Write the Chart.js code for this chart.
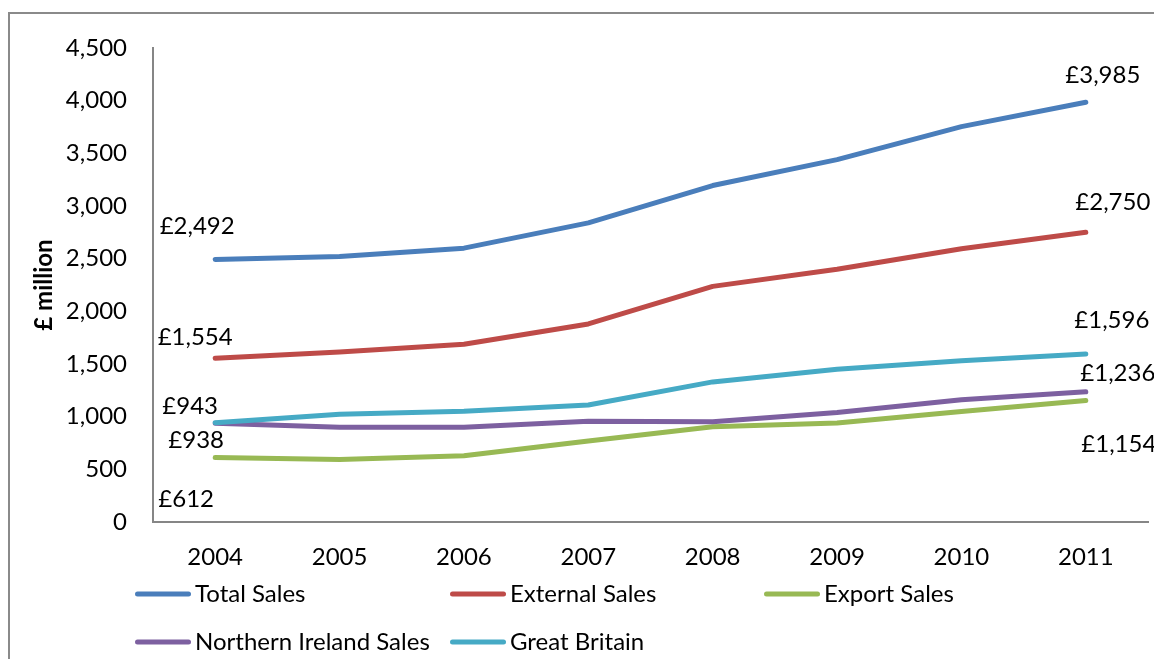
<!DOCTYPE html>
<html>
<head>
<meta charset="utf-8">
<title>Sales, £ million, 2004–2011</title>
<script src="https://cdn.jsdelivr.net/npm/chart.js@4.4.1/dist/chart.umd.min.js"></script>
<style>
  html, body { margin: 0; padding: 0; background: #ffffff; }
  #wrap { width: 1154px; height: 659px; position: relative; }
</style>
</head>
<body>
<div id="wrap"><canvas id="salesChart" width="1154" height="659"></canvas></div>
<script>
// ---- data -------------------------------------------------------------
const years = ['2004', '2005', '2006', '2007', '2008', '2009', '2010', '2011'];

const totalSales            = [2492, 2521, 2600, 2840, 3194, 3440, 3754, 3985];
const externalSales         = [1554, 1615, 1687, 1880, 2237, 2400, 2594, 2750];
const exportSales           = [ 612,  594,  628,  768,  905,  940, 1050, 1154];
const northernIrelandSales  = [ 938,  900,  900,  957,  951, 1040, 1160, 1236];
const greatBritainSales     = [ 943, 1022, 1052, 1110, 1330, 1450, 1530, 1596];

const seriesNames = ['Total Sales', 'External Sales', 'Export Sales', 'Northern Ireland Sales', 'Great Britain'];
const seriesValues = [totalSales, externalSales, exportSales, northernIrelandSales, greatBritainSales];

const yAxisTitle = '£ million';
const yMin = 0, yMax = 4500, yStep = 500;

// ---- styling ----------------------------------------------------------
const FONT = 'Lato, "Open Sans", "DejaVu Sans", sans-serif';
const FONT_SIZE = 24;
const seriesColors = ['#4A7EBB', '#BE4B48', '#98B954', '#7D60A0', '#46AAC5'];
const axisGrey = '#868686';

// offsets (px) of the first / last value labels from their points: [dx, dy]
const labelOffsets = [
  { first: [-18, -33], last: [17, -27] },
  { first: [-20, -21], last: [27, -30] },
  { first: [-29,  42], last: [33,  44] },
  { first: [-19,  17], last: [32, -19] },
  { first: [-25, -16], last: [26, -34] }
];

// legend grid: column x (start of swatch) and row y (centre line)
const legendCols = [135, 450, 764];
const legendRows = [594, 642];
const legendSwatch = 56;

const formatPounds = v => '£' + v.toLocaleString('en-GB');

// ---- plugins ----------------------------------------------------------
const framePlugin = {
  id: 'frame',
  beforeDraw(chart) {
    const ctx = chart.ctx;
    ctx.save();
    ctx.fillStyle = '#ffffff';
    ctx.fillRect(0, 0, chart.width, chart.height);
    ctx.strokeStyle = '#8a8a8a';
    ctx.lineWidth = 2;
    ctx.strokeRect(9, 13, chart.width + 40, chart.height + 40);
    ctx.restore();
  }
};

const endLabelsPlugin = {
  id: 'endLabels',
  afterDatasetsDraw(chart) {
    const ctx = chart.ctx;
    ctx.save();
    ctx.font = FONT_SIZE + 'px ' + FONT;
    ctx.fillStyle = '#000000';
    ctx.textAlign = 'center';
    ctx.textBaseline = 'middle';
    chart.data.datasets.forEach((ds, i) => {
      const meta = chart.getDatasetMeta(i);
      const last = ds.data.length - 1;
      [[0, labelOffsets[i].first], [last, labelOffsets[i].last]].forEach(([idx, off]) => {
        const pt = meta.data[idx];
        ctx.fillText(formatPounds(ds.data[idx]), pt.x + off[0], pt.y + off[1]);
      });
    });
    ctx.restore();
  }
};

const gridLegendPlugin = {
  id: 'gridLegend',
  afterDraw(chart) {
    const ctx = chart.ctx;
    ctx.save();
    ctx.font = FONT_SIZE + 'px ' + FONT;
    ctx.textAlign = 'left';
    ctx.textBaseline = 'middle';
    chart.data.datasets.forEach((ds, i) => {
      const x = legendCols[i % legendCols.length];
      const y = legendRows[Math.floor(i / legendCols.length)];
      ctx.strokeStyle = ds.borderColor;
      ctx.lineWidth = 5;
      ctx.lineCap = 'round';
      ctx.beginPath();
      ctx.moveTo(x + 2.5, y);
      ctx.lineTo(x + legendSwatch - 2.5, y);
      ctx.stroke();
      ctx.fillStyle = '#000000';
      ctx.fillText(ds.label, x + legendSwatch + 4, y);
    });
    ctx.restore();
  }
};

// ---- chart ------------------------------------------------------------
const datasets = seriesNames.map((name, i) => ({
  label: name,
  data: seriesValues[i],
  borderColor: seriesColors[i],
  backgroundColor: seriesColors[i],
  borderWidth: 5,
  borderCapStyle: 'round',
  borderJoinStyle: 'round',
  pointRadius: 0,
  pointHoverRadius: 0,
  tension: 0,
  fill: false,
  order: seriesNames.length - i
}));

new Chart(document.getElementById('salesChart'), {
  type: 'line',
  data: { labels: years, datasets },
  plugins: [framePlugin, endLabelsPlugin, gridLegendPlugin],
  options: {
    responsive: false,
    animation: false,
    devicePixelRatio: 1,
    layout: { padding: { left: 20, top: 48, right: 6, bottom: 0 } },
    plugins: {
      legend: { display: false },
      tooltip: { enabled: false },
      title: { display: false }
    },
    scales: {
      x: {
        type: 'category',
        offset: true,
        grid: { display: false, drawTicks: false },
        border: { display: true, color: axisGrey, width: 2 },
        ticks: {
          color: '#000000',
          font: { family: FONT, size: FONT_SIZE },
          padding: 21,
          maxRotation: 0,
          autoSkip: false
        },
        afterFit(scale) { scale.height = 137; }
      },
      y: {
        min: yMin,
        max: yMax,
        grid: { display: false, drawTicks: false },
        border: { display: true, color: axisGrey, width: 2 },
        ticks: {
          stepSize: yStep,
          color: '#000000',
          font: { family: FONT, size: FONT_SIZE },
          padding: 26
        },
        title: {
          display: true,
          text: yAxisTitle,
          color: '#000000',
          font: { family: FONT, size: FONT_SIZE, weight: 'bold' },
          padding: { top: 10, bottom: 0 }
        },
        afterFit(scale) { scale.width = 133; }
      }
    }
  }
});
</script>
</body>
</html>
